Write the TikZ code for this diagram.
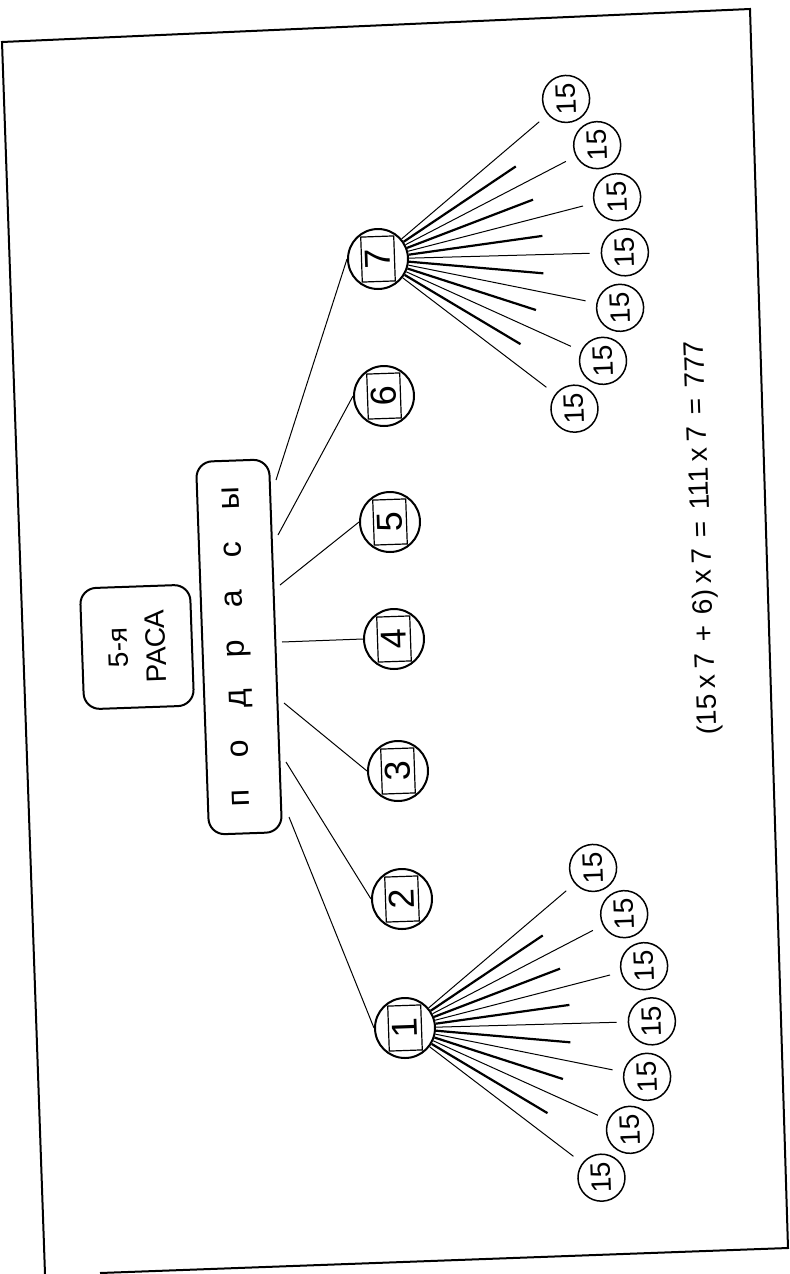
\documentclass[tikz,border=0pt]{standalone}
\usepackage{fontspec}
\setmainfont{Liberation Sans}
\usetikzlibrary{calc}

\begin{document}
\begin{tikzpicture}[x=0.5pt,y=-0.5pt,
    ring/.style={draw,circle,line width=1pt,minimum size=30pt,inner sep=0pt},
    numbox/.style={draw,line width=0.6pt,rotate=92,minimum width=22.5pt,minimum height=16.5pt,
                   inner sep=0pt,font=\fontsize{18}{18}\selectfont},
    leaf/.style={draw,circle,line width=0.75pt,minimum size=23.5pt,inner sep=0pt,rotate=92,
                 font=\fontsize{14}{14}\selectfont},
    tag/.style={draw,line width=1pt,rounded corners=8pt,rotate=92,align=center,inner sep=0pt},
    link/.style={line width=0.5pt},
    spoke/.style={line width=1.1pt}]
\useasboundingbox (0,0) rectangle (789,1274);

% frame
\coordinate (tl) at (2,42);
\coordinate (tr) at (750,9);
\coordinate (br) at (788,1248);
\coordinate (bb) at (100,1273);
\coordinate (bl) at (45,1274);
\draw[line width=1pt] (bl) -- (tl) -- (tr) -- (br) -- (bb);

% labels
\node[tag,minimum width=60.5pt,minimum height=55pt,font=\fontsize{14}{19}\selectfont] (race) at (137,647) {5-я\\РАСА};
\node[tag,minimum width=186.5pt,minimum height=36.5pt,font=\fontsize{16}{16}\selectfont] (sub) at (239,647)
  {п\hspace{16pt}о\hspace{16pt}д\hspace{16pt}р\hspace{16pt}а\hspace{16pt}с\hspace{16pt}ы};

% subraces
\foreach \i/\x/\y in {1/405/1028,2/402/899,3/398/771,4/394/639,5/390/522,6/384/396,7/378/259}{
  \node[ring] (n\i) at (\x,\y) {};
  \node[numbox] (q\i) at (n\i) {\i};
}
\foreach \i/\x/\y in {1/289/817,2/286/762,3/284/703,4/282/642,5/280/585,6/278/535,7/276/480}{
  \coordinate (p\i) at (\x,\y);
  \draw[link] (p\i) -- (n\i.west);
}

% fans of 15
\foreach \c in {1,7}{
  \foreach \k in {0,...,6}{
    \pgfmathsetmacro\a{40.4-12.95*\k}
    \node[leaf] (f\c-\k) at ($(n\c)+(-\a:247)$) {15};
    \draw[link,shorten >=5.5pt] (n\c) -- (f\c-\k);
  }
  \foreach \k in {0,...,5}{
    \pgfmathsetmacro\m{33.9-12.95*\k}
    \coordinate (t\c-\k) at ($(n\c)+(-\m:166)$);
    \draw[spoke] (n\c) -- (t\c-\k);
  }
}

\node[rotate=92,font=\fontsize{14}{14}\selectfont] (sum) at (703,538)
  {(15\hspace{3pt}x\hspace{3pt}7\hspace{5.5pt}+\hspace{5.5pt}6)\hspace{3pt}x\hspace{3pt}7\hspace{5.5pt}=\hspace{5.5pt}111\hspace{3pt}x\hspace{3pt}7\hspace{5.5pt}=\hspace{5.5pt}777};
\end{tikzpicture}
\end{document}
